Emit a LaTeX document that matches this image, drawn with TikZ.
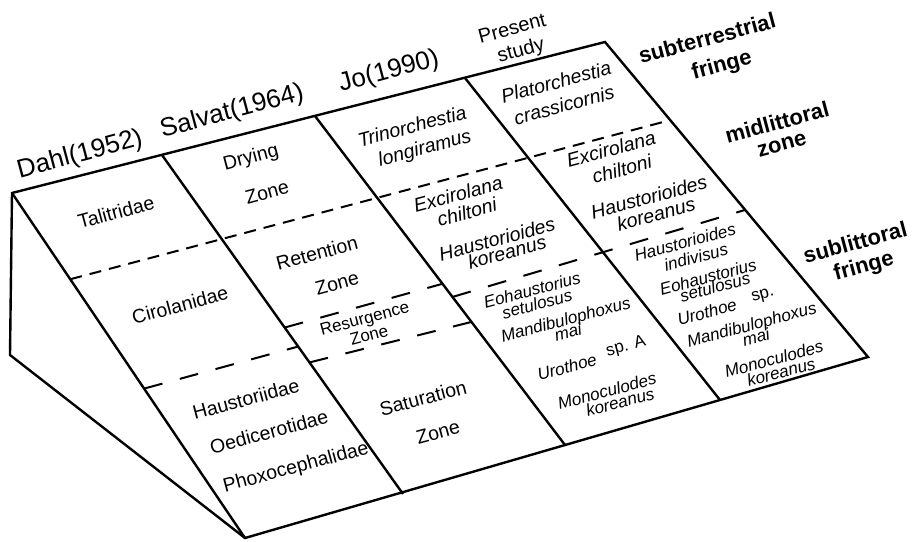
\documentclass[tikz,border=0pt]{standalone}
\usepackage{fontspec}
\setmainfont{Liberation Sans}
\usetikzlibrary{calc}
\tikzset{
  edge/.style={line width=2.4pt},
  dshort/.style={line width=2pt, dash pattern=on 12pt off 8pt},
  dlong/.style={line width=2pt, dash pattern=on 19pt off 18pt},
  lbl/.style={rotate=15, inner sep=0pt, font=\fontsize{19.5}{22}\selectfont},
  spc/.style={lbl, font=\fontsize{19.5}{22}\selectfont\itshape},
  sml/.style={lbl, font=\fontsize{17}{19}\selectfont},
  smi/.style={lbl, font=\fontsize{17}{19}\selectfont\itshape},
  hdr/.style={lbl, font=\fontsize{26}{28}\selectfont},
  hds/.style={lbl, font=\fontsize{20}{22}\selectfont},
  zn/.style={lbl, font=\fontsize{22}{24}\selectfont\bfseries},
}
\begin{document}
\begin{tikzpicture}[x=1pt,y=1pt]
\useasboundingbox (0,0) rectangle (912,541);
% corners (pixel coordinates, y measured from the top)
\coordinate (TL) at (12,541-193);
\coordinate (LB) at (10,541-355);
\coordinate (B)  at (245,541-538);
\coordinate (TR) at (605,541-42);
\coordinate (BR) at (868,541-357);
\coordinate (T1) at (162,541-155); \coordinate (B1) at (403,541-494);
\coordinate (T2) at (315,541-116); \coordinate (B2) at (565,541-445);
\coordinate (T3) at (465,541-78);  \coordinate (B3) at (720,541-400);
% outline
\draw[edge] (LB) -- (TL) -- (TR) -- (BR) -- (B) -- cycle;
\draw[edge] (TL) -- (B);
\draw[edge] (T1) -- (B1);
\draw[edge] (T2) -- (B2);
\draw[edge] (T3) -- (B3);
% dashed zone boundaries
\draw[dshort] ($(TL)!0.25!(B)$) -- ($(TR)!0.248!(BR)$);
\draw[dlong] ($(TL)!0.567!(B)$) -- ($(T1)!0.565!(B1)$);
\draw[dlong] ($(T1)!0.509!(B1)$) -- ($(T2)!0.51!(B2)$);
\draw[dlong] ($(T1)!0.612!(B1)$) -- ($(T2)!0.626!(B2)$);
\draw[dlong] ($(T2)!0.55!(B2)$) -- ($(TR)!0.533!(BR)$);
% headers
\node[hdr] (dahl) at (80,541-155) {Dahl(1952)};
\node[hdr] (salvat) at (232,541-112) {Salvat(1964)};
\node[hdr] (jo) at (389,541-72) {Jo(1990)};
\node[hds] (present) at (512,541-28) {Present};
\node[hds] (study) at (521,541-51) {study};
% zone labels
\node[zn] (subt) at (707,541-38) {subterrestrial};
\node[zn] (subtf) at (722,541-66) {fringe};
\node[zn] (midl) at (777,541-122) {midlittoral};
\node[zn] (midlz) at (782,541-145) {zone};
\node[zn] (subl) at (855,541-242) {sublittoral};
\node[zn] (sublf) at (864,541-267) {fringe};
% column 1
\node[lbl] (tal) at (116,541-212) {Talitridae};
\node[lbl] (cir) at (180,541-305) {Cirolanidae};
\node[lbl] (hau) at (246,541-399) {Haustoriidae};
\node[lbl] (oed) at (269,541-432) {Oedicerotidae};
\node[lbl] (pho) at (296,541-468) {Phoxocephalidae};
% column 2
\node[lbl] (dry) at (251,541-158) {Drying};
\node[lbl] (dryz) at (267,541-192) {Zone};
\node[lbl] (ret) at (317,541-253) {Retention};
\node[lbl] (retz) at (337,541-283) {Zone};
\node[sml] (res) at (365,541-320) {Resurgence};
\node[sml] (resz) at (369,541-335) {Zone};
\node[lbl] (sat) at (423,541-398) {Saturation};
\node[lbl] (satz) at (438,541-432) {Zone};
% column 3
\node[spc] (tri) at (412,541-126) {Trinorchestia};
\node[spc] (lon) at (425,541-149) {longiramus};
\node[spc] (exc3) at (458,541-194) {Excirolana};
\node[spc] (chi3) at (467,541-212) {chiltoni};
\node[spc] (hst3) at (497,541-239) {Haustorioides};
\node[spc] (kor3) at (507,541-252) {koreanus};
\node[smi] (eoh3) at (532,541-290) {Eohaustorius};
\node[smi] (set3) at (537,541-304) {setulosus};
\node[smi] (man3) at (566,541-321) {Mandibulophoxus};
\node[smi] (mai3) at (568,541-332) {mai};
\node[smi] (uro3) at (567,541-367) {Urothoe};
\node[sml] (spa3) at (626,541-347) {sp. A};
\node[smi] (mon3) at (607,541-391) {Monoculodes};
\node[smi] (kmo3) at (620,541-402) {koreanus};
% column 4
\node[spc] (pla) at (556,541-82) {Platorchestia};
\node[spc] (cra) at (564,541-105) {crassicornis};
\node[spc] (exc4) at (611,541-149) {Excirolana};
\node[spc] (chi4) at (622,541-169) {chiltoni};
\node[spc] (hst4) at (649,541-197) {Haustorioides};
\node[spc] (kor4) at (656,541-214) {koreanus};
\node[smi] (hin4) at (685,541-242) {Haustorioides};
\node[smi] (ind4) at (696,541-257) {indivisus};
\node[smi] (eoh4) at (708,541-277) {Eohaustorius};
\node[smi] (set4) at (715,541-287) {setulosus};
\node[smi] (uro4) at (707,541-312) {Urothoe};
\node[sml] (sp4) at (763,541-296) {sp.};
\node[smi] (man4) at (752,541-326) {Mandibulophoxus};
\node[smi] (mai4) at (756,541-337) {mai};
\node[smi] (mon4) at (774,541-359) {Monoculodes};
\node[smi] (kmo4) at (781,541-372) {koreanus};
\end{tikzpicture}
\end{document}
